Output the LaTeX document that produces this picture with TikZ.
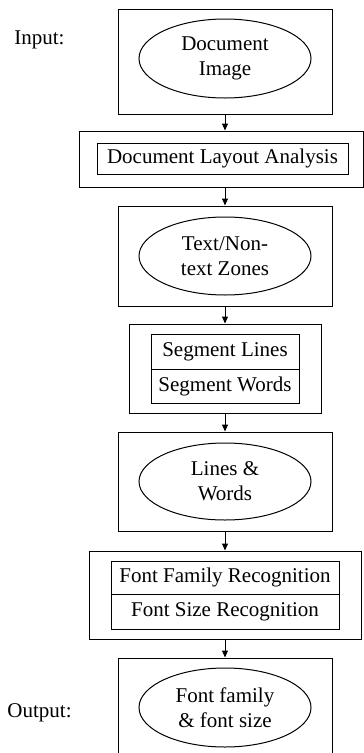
\documentclass[tikz,border=0pt]{standalone}
\usepackage{fontspec}
\setmainfont{Liberation Serif}
\usetikzlibrary{arrows.meta,shapes.geometric}
\begin{document}
\begin{tikzpicture}[x=1pt,y=-1pt,
  font=\fontsize{21}{25}\selectfont,
  every node/.style={line width=1pt, inner sep=0pt},
  frame/.style={draw, rectangle, minimum width=#1},
  oval/.style={draw, ellipse, minimum width=172pt, align=center},
  cell/.style={draw, rectangle, align=center},
  flow/.style={line width=1pt, -{Triangle[length=7pt,width=6pt]}},
  lbl/.style={anchor=base}]
\useasboundingbox (0,0) rectangle (364,753);
\fill[white] (0,0) rectangle (364,753);
% box 1
\node[frame=214pt, minimum height=105pt] (b1) at (225,61.5) {};
\node[oval, minimum height=79pt] (e1) at (225,58.5) {Document\\Image};
\node[lbl] (in) at (39.5,44) {Input:};
% box 2
\node[frame=284pt, minimum height=56pt] (b2) at (221,159) {};
\node[cell, minimum width=251pt, minimum height=31pt] (c2) at (222.5,158.5) {Document Layout Analysis};
% box 3
\node[frame=214pt, minimum height=100pt] (b3) at (225,256) {};
\node[oval, minimum height=78pt] (e3) at (225,256) {Text/Non-\\text Zones};
% box 4
\node[frame=192pt, minimum height=89pt] (b4) at (225,368.5) {};
\node[cell, minimum width=148pt, minimum height=35pt] (c41) at (225,351.5) {Segment Lines};
\node[cell, minimum width=148pt, minimum height=34pt] (c42) at (225,386) {Segment Words};
% box 5
\node[frame=214pt, minimum height=99pt] (b5) at (225,481.5) {};
\node[oval, minimum height=77pt] (e5) at (225,481.5) {Lines \&\\Words};
% box 6
\node[frame=272pt, minimum height=88pt] (b6) at (225,595) {};
\node[cell, minimum width=228pt, minimum height=33pt] (c61) at (225,577.5) {Font Family Recognition};
\node[cell, minimum width=228pt, minimum height=35pt] (c62) at (225,611.5) {Font Size Recognition};
% box 7
\node[frame=214pt, minimum height=100pt] (b7) at (225,708) {};
\node[oval, minimum height=79pt] (e7) at (225,707.5) {Font family\\\& font size};
\node[lbl] (out) at (39.5,717) {Output:};
% arrows
\draw[flow] (b1.south) -- (b1.south |- b2.north);
\draw[flow] (b1.south |- b2.south) -- (b3.north);
\draw[flow] (b3.south) -- (b4.north);
\draw[flow] (b4.south) -- (b5.north);
\draw[flow] (b5.south) -- (b6.north);
\draw[flow] (b6.south) -- (b7.north);
\end{tikzpicture}
\end{document}
